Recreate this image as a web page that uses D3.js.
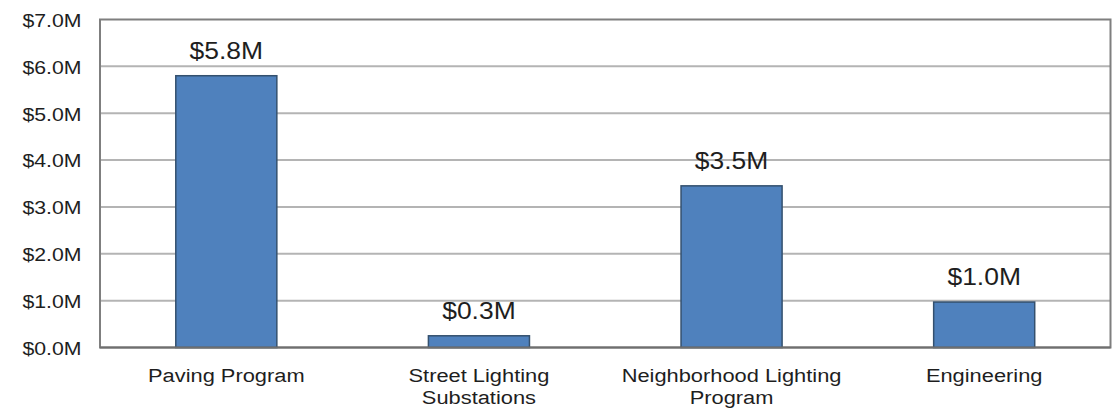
<!DOCTYPE html>
<html>
<head>
<meta charset="utf-8">
<script src="https://cdn.jsdelivr.net/npm/d3@7"></script>
<style>
html,body{margin:0;padding:0;background:#fff;}
svg{display:block;font-family:"Liberation Sans",Arial,sans-serif;}
</style>
</head>
<body>
<svg id="chart" width="1115" height="409"></svg>
<script>
const categories = [["Paving Program"], ["Street Lighting","Substations"], ["Neighborhood Lighting","Program"], ["Engineering"]];
const values = [5.8, 0.25, 3.45, 0.97];
const valueLabels = ["$5.8M", "$0.3M", "$3.5M", "$1.0M"];
const yTicks = [0, 1, 2, 3, 4, 5, 6, 7];

const SX = 1.15; // horizontal stretch of text seen in the reference
const svg = d3.select("#chart");
const m = {left: 100, right: 4.5, top: 19.5, bottom: 61.5};
const W = 1115, H = 409;
const x = d3.scaleBand().domain(d3.range(categories.length)).range([m.left, W - m.right]).paddingInner(0.6).paddingOuter(0.3);
const y = d3.scaleLinear().domain([0, 7]).range([H - m.bottom, m.top]);

// gridlines
svg.append("g").selectAll("line").data(yTicks.filter(d => d > 0 && d < 7)).join("line")
  .attr("x1", m.left).attr("x2", W - m.right)
  .attr("y1", d => y(d)).attr("y2", d => y(d))
  .attr("stroke", "#b4b4b4").attr("stroke-width", 2);

// frame
svg.append("rect").attr("x", m.left).attr("y", y(7)).attr("width", W - m.right - m.left).attr("height", y(0) - y(7))
  .attr("fill", "none").attr("stroke", "#7f7f7f").attr("stroke-width", 2);

// y axis labels
const yAxis = d3.axisLeft(y).tickValues(yTicks).tickSize(0).tickPadding(0).tickFormat(d => "$" + d3.format(".1f")(d) + "M");
const ya = svg.append("g").attr("transform", `translate(${m.left},0)`).call(yAxis);
ya.select(".domain").remove();
ya.selectAll("text")
  .attr("x", 0).attr("dy", "0.37em")
  .attr("transform", `translate(-18.5,0) scale(${SX},1)`)
  .attr("font-size", 18.5).attr("fill", "#1e1e1e").attr("font-family", "Liberation Sans, Arial, sans-serif");

// bars
svg.append("g").selectAll("rect").data(values).join("rect")
  .attr("x", (d, i) => x(i)).attr("width", x.bandwidth())
  .attr("y", d => y(d)).attr("height", d => y(0) - y(d))
  .attr("fill", "#4f81bd").attr("stroke", "#34506e").attr("stroke-width", 1.5);

// value labels
svg.append("g").selectAll("text").data(values).join("text")
  .attr("transform", (d, i) => `translate(${x(i) + x.bandwidth() / 2},${y(d) - 17}) scale(${SX},1)`)
  .attr("text-anchor", "middle").attr("font-size", 23).attr("fill", "#1e1e1e")
  .text((d, i) => valueLabels[i]);

// bottom axis line
svg.append("line").attr("x1", m.left).attr("x2", W - m.right).attr("y1", y(0)).attr("y2", y(0))
  .attr("stroke", "#6f6f6f").attr("stroke-width", 2);

// category labels
const cg = svg.append("g").selectAll("text").data(categories).join("text")
  .attr("transform", (d, i) => `translate(${x(i) + x.bandwidth() / 2},${y(0) + 34.5}) scale(${SX},1)`)
  .attr("text-anchor", "middle").attr("font-size", 19).attr("fill", "#1e1e1e");
cg.selectAll("tspan").data(d => d).join("tspan")
  .attr("x", 0)
  .attr("dy", (d, j) => j === 0 ? 0 : 22.5)
  .text(d => d);
</script>
</body>
</html>
